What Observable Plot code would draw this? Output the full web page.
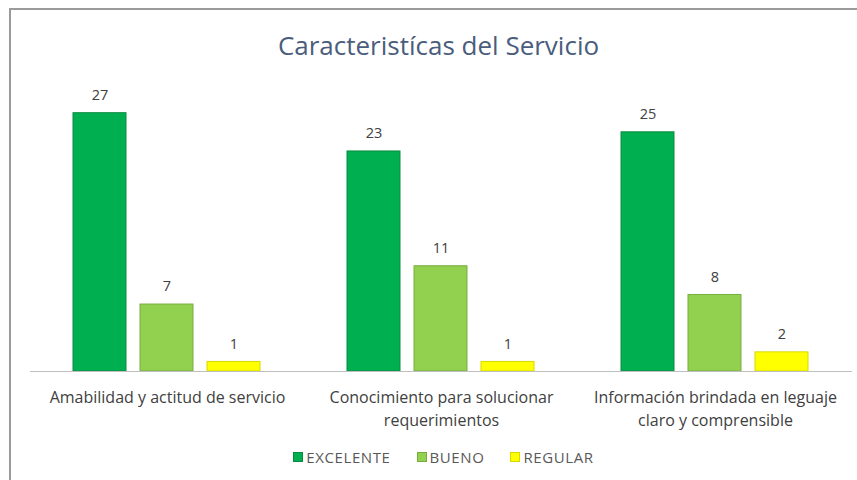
<!DOCTYPE html>
<html>
<head>
<meta charset="utf-8">
<script src="https://cdn.jsdelivr.net/npm/d3@7"></script>
<script src="https://cdn.jsdelivr.net/npm/@observablehq/plot@0.6"></script>
<style>
  html, body { margin: 0; padding: 0; background: #fff; }
  #wrap { position: relative; width: 857px; height: 480px; overflow: hidden; font-family: "Open Sans", "Noto Sans", sans-serif; }
  #frame { position: absolute; left: 9px; top: 8px; width: 860px; height: 480px; border-top: 2px solid #9a9a9a; border-left: 2px solid #9a9a9a; box-sizing: border-box; }
  #title { height: 70px; line-height: 90px; text-align: center; font-size: 26px; color: #4a5d7c; padding-left: 20px; }
  #chart svg { display: block; }
  #legend { position: absolute; top: 447px; left: 0; width: 857px; text-align: center; font-size: 15px; letter-spacing: 0.6px; color: #595959; padding-left: 30px; box-sizing: border-box; }
  #legend span.item { margin: 0 13px; }
  #legend span.sw { display: inline-block; width: 8px; height: 8px; margin-right: 3px; vertical-align: 1px; }
</style>
</head>
<body>
<div id="wrap">
  <div id="frame"></div>
  <div id="title">Caracteristícas del Servicio</div>
  <div id="chart"></div>
  <div id="legend"></div>
</div>
<script>
const categories = [
  "Amabilidad y actitud de servicio",
  "Conocimiento para solucionar requerimientos",
  "Información brindada en leguaje claro y comprensible"
];
const tickLabels = [
  "Amabilidad y actitud de servicio",
  "Conocimiento para solucionar\nrequerimientos",
  "Información brindada en leguaje\nclaro y comprensible"
];
const series = ["EXCELENTE", "BUENO", "REGULAR"];
const excelente = [27, 23, 25];
const bueno = [7, 11, 8];
const regular = [1, 1, 2];
const colors = ["#00b050", "#92d050", "#ffff00"];
const strokes = ["#0a8a40", "#78ad3e", "#d8d800"];

const seriesValues = [excelente, bueno, regular];
const data = [];
categories.forEach((c, i) => {
  series.forEach((s, j) => data.push({category: c, series: s, value: seriesValues[j][i]}));
});

const chart = Plot.plot({
  width: 857,
  height: 370,
  marginLeft: 30,
  marginRight: 5,
  marginTop: 14,
  marginBottom: 69,
  style: {fontFamily: "Open Sans, Noto Sans, sans-serif", background: "transparent"},
  fx: {domain: categories, padding: 0, label: null},
  x: {domain: series, paddingInner: 0.206, paddingOuter: 0.618, axis: null},
  y: {domain: [0, 30], axis: null},
  color: {domain: series, range: colors},
  marks: [
    Plot.barY(data, {fx: "category", x: "series", y: "value", fill: "series",
      stroke: d => strokes[series.indexOf(d.series)], strokeWidth: 1}),
    Plot.text(data, {fx: "category", x: "series", y: "value", text: d => String(d.value),
      dy: -18, fontSize: 14.5, fill: "#404040"}),
    Plot.ruleY([0], {stroke: "#bfbfbf", strokeWidth: 1.2}),
    Plot.axisFx({anchor: "bottom", tickSize: 0, tickPadding: 16, fontSize: 16, lineHeight: 1.4,
      color: "#404040", label: null,
      tickFormat: d => tickLabels[categories.indexOf(d)]})
  ]
});
document.getElementById("chart").appendChild(chart);

const legend = document.getElementById("legend");
series.forEach((s, j) => {
  const item = document.createElement("span");
  item.className = "item";
  const sw = document.createElement("span");
  sw.className = "sw";
  sw.style.background = colors[j];
  sw.style.border = "1px solid " + strokes[j];
  item.appendChild(sw);
  item.appendChild(document.createTextNode(s));
  legend.appendChild(item);
});
</script>
</body>
</html>
